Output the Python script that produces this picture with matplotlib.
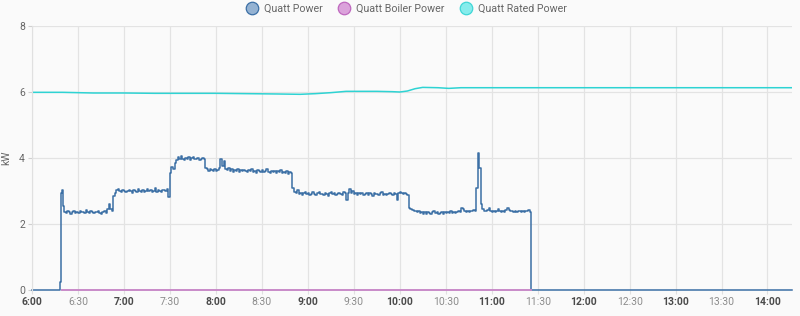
import matplotlib
matplotlib.use("Agg")
import matplotlib.pyplot as plt
from matplotlib.lines import Line2D
import numpy as np

plt.rcParams['font.family'] = ['Roboto', 'DejaVu Sans']

# Quatt Power (kW): start-up, then one sample per minute from 6:21 to 11:25, then off
power_start_min = [0, 18.3, 18.8, 19.3, 20.0]
power_start_kw = [0.0, 0.25, 2.95, 3.03, 2.55]

power_run_first_min = 21
power_run_kw = [
    2.36, 2.33, 2.38, 2.35, 2.31, 2.37, 2.40, 2.34, 2.36, 2.32,   # 21-30
    2.39, 2.35, 2.37, 2.33, 2.41, 2.36, 2.34, 2.38, 2.35, 2.32,   # 31-40
    2.37, 2.36, 2.39, 2.34, 2.31, 2.36, 2.38, 2.33, 2.45, 2.62,   # 41-50
    2.45, 2.40, 2.85, 2.95, 3.02, 3.05, 3.00, 2.97, 3.03, 3.01,   # 51-60
    2.96, 3.00, 3.04, 2.99, 2.95, 3.02, 3.00, 2.97, 3.05, 3.01,   # 61-70
    2.98, 3.03, 2.96, 3.00, 3.06, 2.99, 3.02, 2.97, 3.01, 3.08,   # 71-80
    2.98, 3.03, 3.00, 2.96, 3.04, 3.02, 2.99, 3.05, 2.82, 3.55,   # 81-90
    3.72, 3.66, 3.85, 3.95, 4.02, 3.96, 4.05, 3.98, 3.93, 4.01,   # 91-100
    3.97, 4.03, 3.95, 3.99, 4.04, 3.96, 3.98, 4.00, 3.94, 3.97,   # 101-110
    4.01, 3.96, 3.70, 3.66, 3.62, 3.68, 3.64, 3.60, 3.66, 3.61,   # 111-120
    3.63, 3.70, 3.97, 3.76, 3.92, 3.68, 3.63, 3.70, 3.62, 3.66,   # 121-130
    3.59, 3.64, 3.61, 3.67, 3.58, 3.63, 3.60, 3.65, 3.62, 3.57,   # 131-140
    3.64, 3.60, 3.66, 3.59, 3.62, 3.55, 3.63, 3.60, 3.58, 3.64,   # 141-150
    3.57, 3.61, 3.66, 3.59, 3.56, 3.62, 3.58, 3.60, 3.54, 3.61,   # 151-160
    3.57, 3.63, 3.55, 3.59, 3.56, 3.60, 3.53, 3.58, 3.55, 3.08,   # 161-170
    2.96, 2.94, 3.02, 2.92, 2.95, 2.89, 2.93, 2.97, 2.90, 2.94,   # 171-180
    2.88, 2.92, 2.96, 2.91, 2.87, 2.93, 2.98, 2.90, 2.92, 2.89,   # 181-190
    2.95, 2.91, 2.86, 2.93, 2.97, 2.90, 2.94, 2.88, 2.92, 2.95,   # 191-200
    2.91, 2.89, 2.96, 2.93, 2.72, 2.95, 3.06, 2.94, 2.99, 2.91,   # 201-210
    2.95, 2.88, 2.93, 2.90, 2.94, 2.87, 2.92, 2.95, 2.89, 2.93,   # 211-220
    2.91, 2.86, 2.94, 2.90, 2.92, 2.88, 2.93, 2.96, 2.89, 2.91,   # 221-230
    2.87, 2.92, 2.94, 2.90, 2.88, 2.95, 2.92, 2.74, 2.94, 2.97,   # 231-240
    2.93, 2.90, 2.95, 2.92, 2.89, 2.48, 2.44, 2.42, 2.38, 2.40,   # 241-250
    2.36, 2.39, 2.33, 2.37, 2.31, 2.35, 2.30, 2.36, 2.33, 2.29,   # 251-260
    2.35, 2.38, 2.32, 2.36, 2.30, 2.34, 2.37, 2.31, 2.35, 2.33,   # 261-270
    2.36, 2.32, 2.38, 2.34, 2.36, 2.33, 2.37, 2.40, 2.36, 2.48,   # 271-280
    2.44, 2.38, 2.36, 2.39, 2.37, 2.40, 2.38, 2.42, 2.40, 3.10,   # 281-290
    4.16, 3.70, 2.60, 2.45, 2.40, 2.38, 2.42, 2.48, 2.40, 2.37,   # 291-300
    2.39, 2.36, 2.38, 2.44, 2.40, 2.37, 2.39, 2.36, 2.42, 2.48,   # 301-310
    2.41, 2.38, 2.40, 2.37, 2.39, 2.36, 2.38, 2.40, 2.37, 2.39,   # 311-320
    2.36, 2.40, 2.38, 2.41, 2.35,                                 # 321-325
]
power_off_min = [325.6, 496]
power_off_kw = [0.0, 0.0]

# Quatt Boiler Power (kW)
boiler_min = [19.3, 325.6]
boiler_kw = [0.0, 0.0]

# Quatt Rated Power (kW)
rated_min = [0, 20, 40, 60, 80, 100, 120, 140, 160, 175, 185, 195, 205, 215,
             225, 235, 240, 245, 250, 255, 265, 272, 280, 300, 380, 496]
rated_kw = [5.99, 5.99, 5.97, 5.97, 5.96, 5.96, 5.96, 5.95, 5.94, 5.93, 5.95,
            5.98, 6.02, 6.02, 6.02, 6.01, 6.00, 6.03, 6.10, 6.14, 6.13, 6.11,
            6.13, 6.13, 6.13, 6.13]

x_tick_labels = ["6:00", "6:30", "7:00", "7:30", "8:00", "8:30", "9:00", "9:30",
                 "10:00", "10:30", "11:00", "11:30", "12:00", "12:30", "13:00",
                 "13:30", "14:00"]
y_ticks = [0, 2, 4, 6, 8]

power_color = "#3b6fa5"
boiler_color = "#c88ac8"
rated_color = "#2ed3d3"

run_min = [power_run_first_min + i for i in range(len(power_run_kw))]
p_min = power_start_min + run_min + power_off_min
p_kw = power_start_kw + power_run_kw + power_off_kw


def to_hour(minutes):
    return 6 + np.array(minutes) / 60.0


fig = plt.figure(figsize=(8, 3.16), dpi=100, facecolor="#fafafa")
ax = fig.add_axes([0.04, 0.0823, 0.95, 0.8354], facecolor="#fafafa")

ax.plot(to_hour(rated_min), rated_kw, color=rated_color, lw=1.1)
ax.plot(to_hour(p_min), p_kw, color=power_color, lw=1.1, drawstyle="steps-post",
        clip_on=False)
ax.plot(to_hour(boiler_min), boiler_kw, color=boiler_color, lw=1.4, clip_on=False)

ax.set_xlim(6, to_hour(496))
ax.set_ylim(0, 8)
ax.set_yticks(y_ticks)
ax.set_xticks(np.arange(len(x_tick_labels)) * 0.5 + 6)
ax.set_xticklabels(x_tick_labels)
for lab in ax.get_xticklabels():
    if lab.get_text().endswith(":00"):
        lab.set_fontweight("bold")
        lab.set_color("#4a4a4a")
    else:
        lab.set_color("#8c8c8c")
ax.tick_params(axis="x", labelsize=7.5, length=3, color="#e0e0e0", pad=2)
ax.tick_params(axis="y", labelsize=7.5, labelcolor="#666666", length=3,
               color="#d0d0d0", pad=2)
ax.grid(True, color="#e3e3e3", lw=0.9)
ax.set_axisbelow(True)
for side in ["top", "right", "bottom"]:
    ax.spines[side].set_visible(False)
ax.spines["left"].set_color("#e0e0e0")
ax.set_ylabel("kW", fontsize=7.5, color="#666666")
ax.yaxis.set_label_coords(-0.027, 0.5)

handles = [
    Line2D([], [], ls="none", marker="o", ms=9, mfc="#94b2d2", mec=power_color, mew=0.9),
    Line2D([], [], ls="none", marker="o", ms=9, mfc="#dba2db", mec="#bf68bf", mew=0.9),
    Line2D([], [], ls="none", marker="o", ms=9, mfc="#86ecec", mec="#3fd6d6", mew=0.9),
]
fig.legend(handles, ["Quatt Power", "Quatt Boiler Power", "Quatt Rated Power"],
           loc="upper center", bbox_to_anchor=(0.505, 1.02), ncol=3, frameon=False,
           fontsize=7.7, labelcolor="#666666", handletextpad=0.15, columnspacing=1.0)

fig.savefig("out.png", dpi=100, facecolor="#fafafa")
